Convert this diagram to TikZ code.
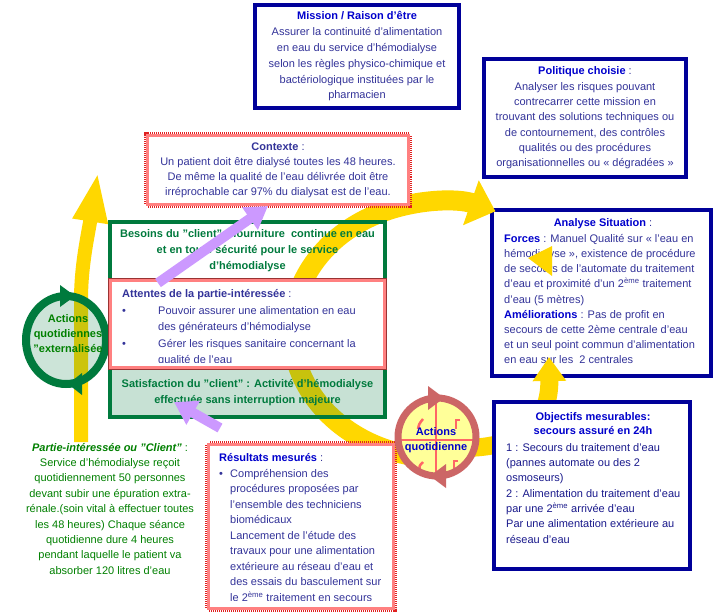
\documentclass[tikz,border=0pt]{standalone}
\usepackage{fontspec}
\setmainfont{Liberation Sans}
\usetikzlibrary{arrows.meta}
\definecolor{navyline}{HTML}{000099}
\definecolor{titleblue}{HTML}{0000CC}
\definecolor{bodyblue}{HTML}{333399}
\definecolor{objblue}{HTML}{1A1A8C}
\definecolor{boxgreen}{HTML}{007A3D}
\definecolor{textgreen}{HTML}{008000}
\definecolor{salmon}{HTML}{FF8080}
\definecolor{dotred}{HTML}{E02020}
\definecolor{crossred}{HTML}{FF6666}
\definecolor{brownline}{HTML}{993333}
\definecolor{gold}{HTML}{FFD700}
\definecolor{lavender}{HTML}{CC99FF}
\definecolor{rosering}{HTML}{CC6666}
\definecolor{paleyellow}{HTML}{FFFF99}
\newcommand{\fs}[1]{\fontsize{11}{#1}\selectfont}
\newcommand{\ttl}[1]{\textbf{\color{titleblue}#1}}
\newcommand{\eme}{\textsuperscript{ème}}
\tikzstyle{bluebox}=[rectangle, draw=navyline, line width=4pt, fill=white, inner sep=0pt]
\tikzstyle{greenbox}=[rectangle, draw=boxgreen, line width=4pt, inner sep=0pt]
\tikzstyle{redbox}=[rectangle, fill=white, draw=salmon, line width=3pt, inner sep=0pt, preaction={draw=dotred, line width=7pt, dash pattern=on 1pt off 1pt}]
\tikzstyle{pinkbox}=[rectangle, fill=white, draw=salmon, line width=3pt, inner sep=0pt, preaction={draw=brownline, line width=5pt}]
\tikzstyle{txt}=[inner sep=0pt, text=bodyblue, font=\fs{15.2}]
\tikzstyle{gtxt}=[inner sep=0pt, text=boxgreen, align=center, font=\fs{16}\bfseries]
\tikzstyle{band}=[draw=gold, line cap=butt]
\tikzstyle{lilac}=[draw=lavender, line width=10pt, -{Triangle[length=22pt,width=26pt]}]
\begin{document}
\begin{tikzpicture}[x=1pt, y=-1pt]
	\useasboundingbox (0,0) rectangle (714,615);
	\fill[white] (0,0) rectangle (714,615);

	% top and right boxes
	\node[bluebox, minimum width=204pt, minimum height=103pt, align=center, text=bodyblue, font=\fs{15.8}] (mission) at (357,56.5) {\ttl{Mission / Raison d'être}\\Assurer la continuité d’alimentation\\en eau du service d’hémodialyse\\selon les règles physico-chimique et\\bactériologique instituées par le\\pharmacien};
	\node[bluebox, minimum width=202pt, minimum height=118pt, align=center, text=bodyblue, font=\fs{15.3}] (politique) at (585,118) {\ttl{Politique choisie} :\\Analyser les risques pouvant\\contrecarrer cette mission en\\trouvant des solutions techniques ou\\de contournement, des contrôles\\qualités ou des procédures\\organisationnelles ou «~dégradées~»};
	\node[bluebox, minimum width=219pt, minimum height=166pt] (analyse) at (601.5,293) {};
	\node[txt] (analysetitle) at (603,223.5) {\ttl{Analyse Situation} :};
	\node[txt, anchor=north west, align=left] (analysebody) at (504,231.4) {\strut\ttl{Forces} : Manuel Qualité sur «~l’eau en\\hémodialyse~», existence de procédure\\de secours de l’automate du traitement\\d’eau et proximité d’un 2\eme{} traitement\\d’eau (5 mètres)\\\ttl{Améliorations} : Pas de profit en\\secours de cette 2ème centrale d’eau\\et un seul point commun d’alimentation\\en eau sur les~ 2 centrales};

	% yellow arrows
	\draw[band, line width=14pt, -{Triangle[length=50pt,width=32pt]}] (81,442) -- (81,300) .. controls (81,265) and (88,235) .. (98,172);
	\draw[band, line width=20pt, -{Triangle[length=26pt,width=46pt]}] (440,330) ++(95:148 and 128) arc[start angle=95, end angle=292, x radius=148, y radius=128];
	\draw[band, line width=18pt, -{Triangle[length=24pt,width=32pt]}] (462,448) .. controls (525,448) and (550,420) .. (549,357);
	\fill[gold] (528,258) -- (552,246) -- (552,276) -- cycle;

	\node[bluebox, minimum width=196pt, minimum height=167pt] (objectifs) at (592,485.5) {};
	\node[txt, align=center, text=titleblue, font=\fs{14}\bfseries] (objtitle) at (593,424) {Objectifs mesurables:\\secours assuré en 24h};
	\node[txt, anchor=north west, align=left, text=objblue, font=\fs{15.3}] (objbody) at (506,440.3) {\strut 1 : Secours du traitement d’eau\\(pannes automate ou des 2\\osmoseurs)\\2 : Alimentation du traitement d’eau\\par une 2\eme{} arrivée d’eau\\Par une alimentation extérieure au\\réseau d’eau};

	\node[redbox, minimum width=261pt, minimum height=69pt, align=center, text=bodyblue, font=\fs{15}] (contexte) at (278,170) {\textbf{Contexte} :\\Un patient doit être dialysé toutes les 48 heures.\\De même la qualité de l’eau délivrée doit être\\irréprochable car 97\% du dialysat est de l’eau.};

	% left circle
	\fill[boxgreen, fill opacity=0.2] (66,340) ellipse [x radius=40, y radius=44];
	\draw[boxgreen, line width=8pt] (66,340) ellipse [x radius=40, y radius=44];
	\fill[boxgreen] (60,285) -- (75,296) -- (60,307) -- cycle;
	\fill[boxgreen] (82,373) -- (68,384) -- (82,395) -- cycle;
	\node[gtxt, text=textgreen, font=\fs{15}\bfseries] (extaction) at (68,334) {Actions\\quotidiennes\\"externalisée};

	% client boxes
	\node[greenbox, minimum width=275pt, minimum height=58pt, align=center, text=boxgreen, font=\fs{16}\bfseries] (besoins) at (247.5,251) {Besoins du "client" : fourniture~ continue en eau\\et en toute sécurité pour le service\\d’hémodialyse};
	\node[greenbox, fill=boxgreen, fill opacity=0.22, text opacity=1, minimum width=275pt, minimum height=49pt, align=center, text=boxgreen, font=\fs{16}\bfseries] (satisfaction) at (247.5,392.5) {Satisfaction du "client" : Activité d’hémodialyse\\effectuée sans interruption majeure};
	\node[pinkbox, minimum width=274pt, minimum height=87pt] (attentes) at (247.5,324) {};
	\begin{scope}
		\clip (111,281) rectangle (384,362);
		\node[txt, anchor=base west] (attitle) at (122,297) {\textbf{Attentes de la partie-intéressée} :};
		\node[txt, anchor=base west] (attbulletA) at (122,314) {•};
		\node[txt, anchor=base west] (attbulletB) at (122,347) {•};
		\node[txt, anchor=north west, align=left, font=\fs{16.5}] (attbody) at (158,302.45) {\strut Pouvoir assurer une alimentation en eau\\des générateurs d’hémodialyse\\Gérer les risques sanitaire concernant la\\qualité de l’eau};
	\end{scope}

	\node[redbox, minimum width=185pt, minimum height=164pt] (resultats) at (301,526.5) {};
	\begin{scope}
		\clip (208,444) rectangle (394,600);
		\node[txt, anchor=base west] (restitle) at (219,461) {\ttl{Résultats mesurés} :};
		\node[txt, anchor=base west] (resbullet) at (219,477) {•};
		\node[txt, anchor=north west, align=left, font=\fs{15.5}] (resbody) at (230,466.15) {\strut Compréhension des\\procédures proposées par\\l’ensemble des techniciens\\biomédicaux\\Lancement de l’étude des\\travaux pour une alimentation\\extérieure au réseau d’eau et\\des essais du basculement sur\\le 2\eme{} traitement en secours};
	\end{scope}

	% daily actions circle
	\fill[paleyellow] (437,437) circle (39);
	\draw[crossred, line width=1.5pt] (400,440) -- (474,440) (436,400) -- (436,474);
	\draw[crossred, line width=2.5pt] (418,429) .. controls (419,424) .. (423,419);
	\draw[crossred, line width=2.5pt] (460,420) -- (456,420) -- (456,429);
	\draw[crossred, line width=2.5pt] (423,462) .. controls (419,466) .. (420,472);
	\draw[crossred, line width=2.5pt] (458,461) -- (454,461) -- (454,472);
	\draw[rosering, line width=7pt] (437,437) circle (39);
	\fill[rosering] (428,386) -- (444,398) -- (428,410) -- cycle;
	\fill[rosering] (446,464) -- (430,476) -- (446,488) -- cycle;
	\node[txt, align=center, text=titleblue, font=\fs{15}\bfseries] (dailyaction) at (436,440) {Actions\\quotidienne};

	% lilac arrows
	\draw[lilac] (158,283) -- (268,206);
	\draw[lilac] (220,428) -- (174,402);

	\node[txt, anchor=north, align=center, text=textgreen, font=\fs{15.4}] (partie) at (110,440.2) {\strut\textbf{\textit{Partie-intéressée ou "Client"}} :\\Service d’hémodialyse reçoit\\quotidiennement 50 personnes\\devant subir une épuration extra-\\rénale.(soin vital à effectuer toutes\\les 48 heures) Chaque séance\\quotidienne dure 4 heures\\pendant laquelle le patient va\\absorber 120 litres d’eau};

\end{tikzpicture}
\end{document}
